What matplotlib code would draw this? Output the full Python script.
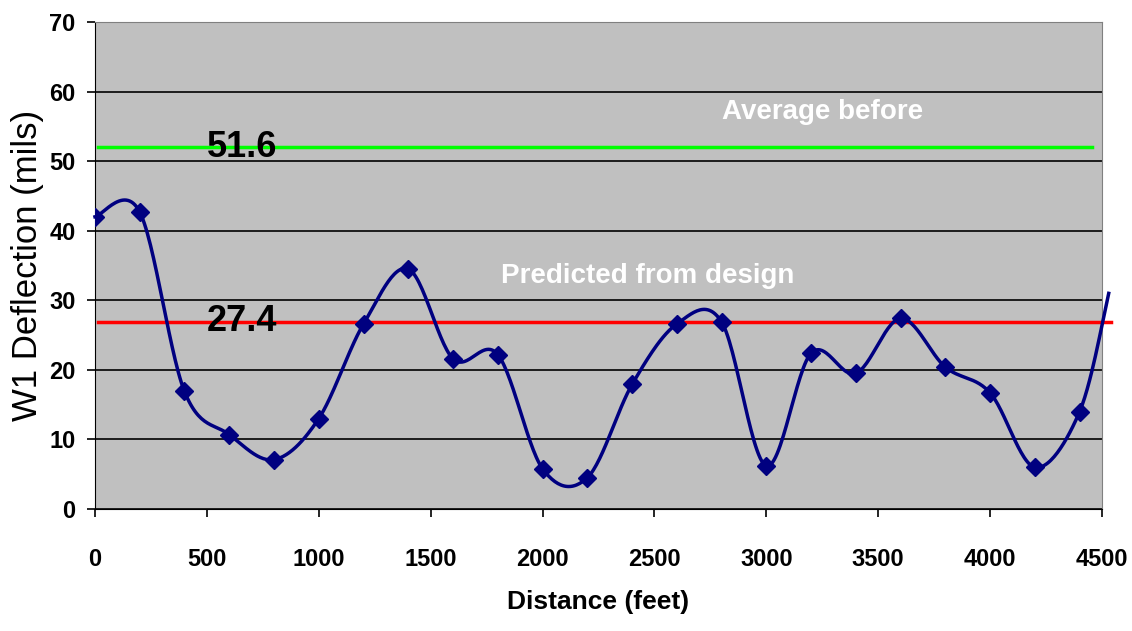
import matplotlib
matplotlib.use("Agg")
import matplotlib.pyplot as plt
import numpy as np

# deflection readings along the section
distance = [0, 200, 400, 600, 800, 1000, 1200, 1400, 1600, 1800, 2000, 2200,
            2400, 2600, 2800, 3000, 3200, 3400, 3600, 3800, 4000, 4200, 4400]
deflection = [42.0, 42.7, 16.9, 10.7, 7.1, 13.0, 26.6, 34.5, 21.6, 22.2, 5.8, 4.5,
              17.9, 26.6, 26.9, 6.2, 22.4, 19.5, 27.4, 20.4, 16.7, 6.0, 14.0]
# curve runs a little past the axis end
tail_distance = 4530
tail_deflection = 31.0

avg_before = 52.0
predicted = 26.9
avg_label = "51.6"
pred_label = "27.4"


def smooth(x, y, n=30):
    # excel-like bezier smoothing
    x = np.asarray(x, float)
    y = np.asarray(y, float)
    xs, ys = [], []
    for i in range(len(x) - 1):
        x0, y0 = (x[i - 1], y[i - 1]) if i > 0 else (x[i], y[i])
        x3, y3 = (x[i + 2], y[i + 2]) if i + 2 < len(x) else (x[i + 1], y[i + 1])
        p1 = (x[i] + (x[i + 1] - x0) / 6, y[i] + (y[i + 1] - y0) / 6)
        p2 = (x[i + 1] - (x3 - x[i]) / 6, y[i + 1] - (y3 - y[i]) / 6)
        t = np.linspace(0, 1, n)
        a, b, c, d = (1 - t) ** 3, 3 * t * (1 - t) ** 2, 3 * t ** 2 * (1 - t), t ** 3
        xs.append(a * x[i] + b * p1[0] + c * p2[0] + d * x[i + 1])
        ys.append(a * y[i] + b * p1[1] + c * p2[1] + d * y[i + 1])
    return np.concatenate(xs), np.concatenate(ys)


fig = plt.figure(figsize=(11.32, 6.31), dpi=100)
ax = fig.add_axes([0.0839, 0.1933, 0.8896, 0.7718])
ax.set_facecolor("#c0c0c0")

ax.set_xlim(0, 4500)
ax.set_ylim(0, 70)
ax.set_yticks(range(0, 71, 10))
ax.set_xticks(range(0, 4501, 500))
ax.yaxis.grid(True, color="black", linewidth=1.2)
ax.set_axisbelow(True)

for s in ["top", "right"]:
    ax.spines[s].set_color("#808080")
ax.spines["left"].set_color("black")
ax.spines["bottom"].set_color("black")

ax.axhline(avg_before, xmin=0.003, xmax=0.99, color="#00ff00", linewidth=2.5, zorder=3)
ax.plot([15, 4540], [predicted, predicted], color="red", linewidth=2.5, zorder=3, clip_on=False)

sx, sy = smooth(distance + [tail_distance], deflection + [tail_deflection])
ax.plot(sx, sy, color="#000080", linewidth=2.5, zorder=4, clip_on=False)
ax.plot(distance, deflection, linestyle="none", marker="D", markersize=9,
        color="#000080", zorder=5)

font = "Liberation Sans"
ax.text(500, avg_before, avg_label, fontsize=26, fontweight="bold", ha="left", va="center",
        family=font, zorder=6)
ax.text(500, predicted, pred_label, fontsize=26, fontweight="bold", ha="left", va="center",
        family=font, zorder=6)
ax.text(3250, 57.0, "Average before", color="white", fontsize=20, fontweight="bold",
        ha="center", va="center", family=font)
ax.text(2469, 33.5, "Predicted from design", color="white", fontsize=20, fontweight="bold",
        ha="center", va="center", family=font)

ax.tick_params(axis="both", direction="out", length=6, width=1.2, color="black")
ax.tick_params(axis="x", pad=22)
ax.tick_params(axis="y", pad=8)
for lab in ax.get_xticklabels() + ax.get_yticklabels():
    lab.set_family(font)
    lab.set_fontweight("bold")
    lab.set_fontsize(17)

ax.set_xlabel("Distance (feet)", fontsize=19, fontweight="bold", family=font, labelpad=14)
ax.set_ylabel("W1 Deflection (mils)", fontsize=25, family=font, labelpad=4)

fig.savefig("out.png", dpi=100, facecolor="white")
